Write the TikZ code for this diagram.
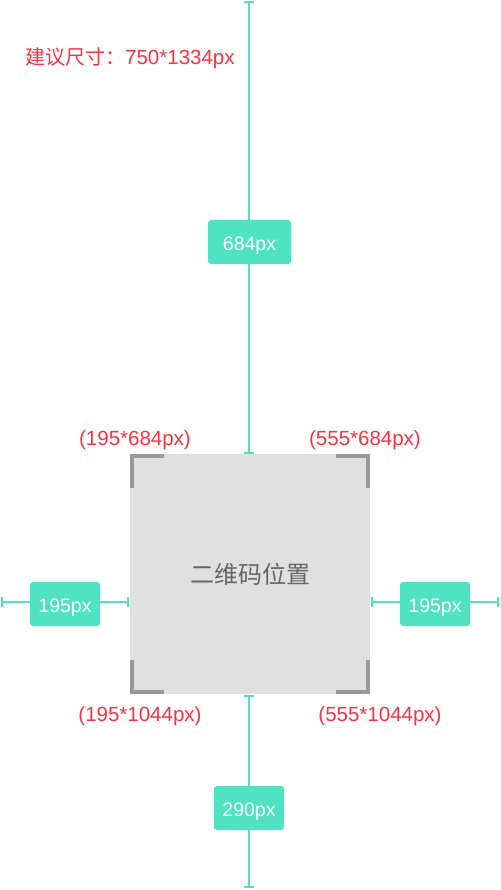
\documentclass[tikz,border=0pt]{standalone}
\usepackage{fontspec}
\setmainfont{Liberation Sans}
\newfontfamily\cjk{Noto Sans CJK SC}
\usetikzlibrary{arrows.meta}
\definecolor{mint}{HTML}{50E3C2}
\definecolor{redtxt}{HTML}{FA3242}
\definecolor{cornergray}{HTML}{999999}
\definecolor{sqfill}{HTML}{E0E0E0}
\definecolor{sqtext}{HTML}{666666}
\tikzset{
  dimline/.style={draw=mint, line width=2pt, {Bar[width=10pt]}-{Bar[width=10pt]}},
  lbl/.style={fill=mint, text=white, rounded corners=3pt, minimum width=70pt, minimum height=44pt, inner sep=0pt, text height=17pt, text depth=0pt, font=\fontsize{19.5}{19.5}\selectfont},
  coord/.style={text=redtxt, inner sep=0pt, text height=14.7pt, text depth=0pt, font=\fontsize{20.5}{20.5}\selectfont},
  cornermark/.style={draw=cornergray, line width=4pt, line join=miter},
}
\begin{document}
\begin{tikzpicture}[x=1pt,y=-1pt]
\useasboundingbox (0,0) rectangle (500,890);
% dimension lines
\coordinate (t0) at (249,1);
\coordinate (t1) at (249,454);
\coordinate (l0) at (1,602);
\coordinate (l1) at (129,602);
\coordinate (r0) at (371,602);
\coordinate (r1) at (499,602);
\coordinate (b0) at (249,695);
\coordinate (b1) at (249,888);
\draw[dimline] (t0) -- (t1);
\draw[dimline] (l0) -- (l1);
\draw[dimline] (r0) -- (r1);
\draw[dimline] (b0) -- (b1);
% square
\node[fill=sqfill, minimum width=240pt, minimum height=240pt, inner sep=0pt] (sq) at (250,574) {};
\node[text=sqtext, font=\cjk\fontsize{24}{24}\selectfont] (sqlbl) at (250,574) {二维码位置};
\draw[cornermark] ([shift={(2,34)}]sq.north west) -- ([shift={(2,2)}]sq.north west) -- ([shift={(34,2)}]sq.north west);
\draw[cornermark] ([shift={(-2,34)}]sq.north east) -- ([shift={(-2,2)}]sq.north east) -- ([shift={(-34,2)}]sq.north east);
\draw[cornermark] ([shift={(2,-34)}]sq.south west) -- ([shift={(2,-2)}]sq.south west) -- ([shift={(34,-2)}]sq.south west);
\draw[cornermark] ([shift={(-2,-34)}]sq.south east) -- ([shift={(-2,-2)}]sq.south east) -- ([shift={(-34,-2)}]sq.south east);
% labels
\node[lbl, minimum width=83pt] (b684) at (249.5,242) {684px};
\node[lbl] (bleft) at (65,604) {195px};
\node[lbl] (bright) at (435,604) {195px};
\node[lbl] (b290) at (249,808) {290px};
% texts
\node[coord, anchor=west] (size) at (25,57) {{\cjk\fontsize{20}{20}\selectfont 建议尺寸：}750*1334px};
\node[coord] (ctl) at (135,438) {(195*684px)};
\node[coord] (ctr) at (365,438) {(555*684px)};
\node[coord] (cbl) at (140,714) {(195*1044px)};
\node[coord] (cbr) at (380,714) {(555*1044px)};
\end{tikzpicture}
\end{document}
